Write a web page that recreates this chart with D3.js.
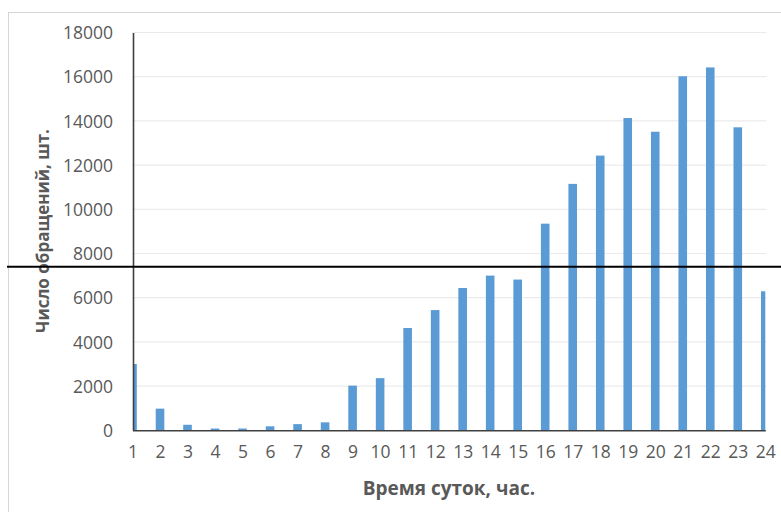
<!DOCTYPE html>
<html>
<head>
<meta charset="utf-8">
<script src="https://cdn.jsdelivr.net/npm/d3@7"></script>
<style>
  html, body { margin: 0; padding: 0; background: #fff; }
  svg { display: block; }
  text { font-family: "Open Sans", "Noto Sans", sans-serif; }
</style>
</head>
<body>
<svg id="chart" width="781" height="512"></svg>
<script>
// Hour of day (x categories)
const hours = ["1","2","3","4","5","6","7","8","9","10","11","12",
               "13","14","15","16","17","18","19","20","21","22","23","24"];
// Number of requests per hour
const counts = [3000, 980, 250, 80, 80, 180, 280, 360, 2020, 2360, 4630, 5440,
                6440, 7000, 6820, 9350, 11150, 12430, 14130, 13510, 16020, 16420, 13710, 6290];
// Value axis ticks
const yTicks = [0, 2000, 4000, 6000, 8000, 10000, 12000, 14000, 16000, 18000];
// Level of the horizontal reference line
const markLevel = 7400;

const W = 781, H = 512;
const plotLeft = 132.5, plotRight = 765.3, plotTop = 32.5, plotBottom = 430.3;

const svg = d3.select("#chart");

// outer frame
svg.append("rect")
  .attr("x", 8.5).attr("y", 12.5)
  .attr("width", W).attr("height", H)
  .attr("fill", "none").attr("stroke", "#d6d6d6").attr("stroke-width", 1);

const x = d3.scalePoint().domain(hours).range([plotLeft, plotRight]);
const y = d3.scaleLinear().domain([0, 18000]).range([plotBottom, plotTop]);
const barW = 8.6;

// gridlines
svg.append("g")
  .selectAll("line")
  .data(yTicks.filter(d => d > 0))
  .join("line")
  .attr("x1", plotLeft).attr("x2", 766.5)
  .attr("y1", d => y(d)).attr("y2", d => y(d))
  .attr("stroke", "#ebebeb").attr("stroke-width", 1.2);

// clip the bars to the plot area
svg.append("clipPath").attr("id", "plot")
  .append("rect")
  .attr("x", plotLeft + 0.5).attr("y", 0)
  .attr("width", plotRight - plotLeft - 0.5).attr("height", plotBottom);

svg.append("g")
  .attr("clip-path", "url(#plot)")
  .selectAll("rect")
  .data(counts)
  .join("rect")
  .attr("x", (d, i) => x(hours[i]) - barW / 2)
  .attr("width", barW)
  .attr("y", d => y(d))
  .attr("height", d => y(0) - y(d))
  .attr("fill", "#5b9bd5");

// y axis
const yAxis = d3.axisLeft(y).tickValues(yTicks).tickSize(0).tickPadding(20)
  .tickFormat(d3.format("d"));
const gy = svg.append("g").attr("transform", `translate(${plotLeft + 0.5},0)`).call(yAxis);
gy.select(".domain").attr("stroke", "#404040").attr("stroke-width", 1.6);
gy.selectAll("text")
  .attr("fill", "#595959")
  .style("font-size", "17.5px")
  .attr("dy", "0.35em");

// x axis
const xAxis = d3.axisBottom(x).tickSize(0).tickPadding(15);
const gx = svg.append("g").attr("transform", `translate(0,${plotBottom})`).call(xAxis);
gx.select(".domain").attr("stroke", "#404040").attr("stroke-width", 1.6);
gx.selectAll("text")
  .attr("fill", "#595959")
  .style("font-size", "17.5px");

// axis titles
svg.append("text")
  .attr("transform", `translate(49,231) rotate(-90)`)
  .attr("text-anchor", "middle")
  .attr("fill", "#595959")
  .style("font-size", "17px").style("font-weight", "bold")
  .text("Число обращений, шт.");

svg.append("text")
  .attr("x", (plotLeft + plotRight) / 2).attr("y", 495)
  .attr("text-anchor", "middle")
  .attr("fill", "#595959")
  .style("font-size", "19px").style("font-weight", "bold")
  .text("Время суток, час.");

// horizontal reference line across the whole figure
svg.append("line")
  .attr("x1", 7).attr("x2", W)
  .attr("y1", y(markLevel)).attr("y2", y(markLevel))
  .attr("stroke", "#000").attr("stroke-width", 2);
</script>
</body>
</html>
